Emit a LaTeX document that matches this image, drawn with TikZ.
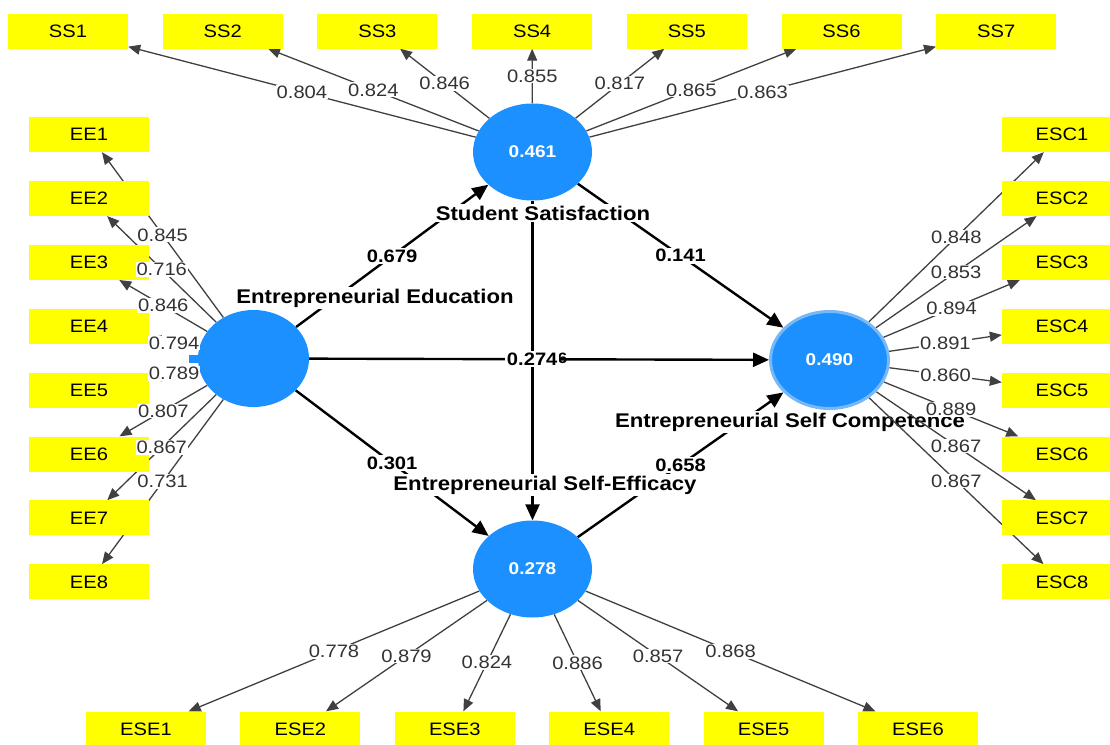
\documentclass[tikz,border=0pt]{standalone}
\usepackage{fontspec}
\setmainfont{Liberation Sans}[FakeStretch=1.12]
\usepackage{xcolor}
\usetikzlibrary{arrows.meta,positioning,calc,shapes.geometric}
\definecolor{plsblue}{RGB}{28,144,255}
\definecolor{plsring}{RGB}{120,185,245}
\definecolor{plsyellow}{RGB}{255,255,0}
\pgfdeclarelayer{paths}
\pgfdeclarelayer{names}
\pgfdeclarelayer{loads}
\pgfsetlayers{paths,names,loads,main}

\begin{document}
\begin{tikzpicture}[x=1pt,y=-1pt,
  lat/.style={ellipse,fill=plsblue,inner sep=0pt,minimum width=119pt,minimum height=97pt,text=white,font=\bfseries\fontsize{17}{17}\selectfont},
  ind/.style={rectangle,fill=plsyellow,minimum width=120pt,minimum height=35pt,inner sep=0pt,text=black,font=\fontsize{18}{18}\selectfont},
  load/.style={draw=black!75,line width=1.3pt,-{Triangle[length=12pt,width=10pt]}},
  lval/.style={fill=white,inner sep=1pt,text=black!80,font=\fontsize{18}{18}\selectfont},
  struct/.style={draw=black,line width=2.4pt,-{Triangle[length=16pt,width=14pt]}},
  coef/.style={fill=white,inner sep=1.5pt,font=\bfseries\fontsize{18}{18}\selectfont},
  latname/.style={fill=white,inner sep=2pt,font=\bfseries\fontsize{19.8}{20}\selectfont}]
\useasboundingbox (0,0) rectangle (1110,744);

\node[lat] (SS) at (532.5,152) {0.461};
\node[lat,minimum width=111pt] (EE) at (253.5,358.5) {};
\node[fill=plsblue,minimum width=12pt,minimum height=8pt,inner sep=0pt,anchor=east] (EEtab) at ([xshift=3pt]EE.west) {};
\node[lat,draw=plsring,line width=3pt,minimum width=118pt,minimum height=97pt] (ESC) at (829.5,360) {0.490};
\node[lat] (ESE) at (532.5,569) {0.278};

\foreach \i in {1,...,7}
  \node[ind] (SS\i) at ({68+154.7*(\i-1)},31) {SS\i};
\foreach \i in {1,...,8}{
  \node[ind] (EE\i) at (89,{134.5+63.9*(\i-1)}) {EE\i};
  \node[ind] (ESC\i) at (1062,{134.5+63.9*(\i-1)}) {ESC\i};
}
\foreach \i in {1,...,6}
  \node[ind] (ESE\i) at ({146+154.4*(\i-1)},729) {ESE\i};

\begin{pgfonlayer}{paths}
\draw[struct] (EE) -- node[coef]{0.679} (SS);
\draw[struct] (SS) -- node[coef]{0.141} (ESC);
\draw[struct] (SS) -- node[coef,xshift=30pt,yshift=2pt,font=\bfseries\fontsize{15}{15}\selectfont]{6} (ESE);
\draw[struct] (EE) -- node[coef,pos=0.485]{0.274} (ESC);
\draw[struct] (EE) -- node[coef]{0.301} (ESE);
\draw[struct] (ESE) -- node[coef]{0.658} (ESC);
\end{pgfonlayer}

\begin{pgfonlayer}{names}
\node[latname] (nSS) at (543,213) {Student Satisfaction};
\node[latname] (nEE) at (375,298) {Entrepreneurial Education};
\node[latname] (nESE) at (545,485) {Entrepreneurial Self-Efficacy};
\node[latname] (nESC) at (790,422) {Entrepreneurial Self Competence};
\end{pgfonlayer}

\foreach \i/\v in {1/0.804,2/0.824,3/0.846,4/0.855,5/0.817,6/0.865,7/0.863}{
  \begin{pgfonlayer}{loads}\draw[load] (SS) -- coordinate[midway] (mSS\i) (SS\i);\end{pgfonlayer}
  \node[lval] at (mSS\i) {\v};
}
\foreach \i/\v in {1/0.845,2/0.716,3/0.846,4/0.794,5/0.789,6/0.807,7/0.867,8/0.731}{
  \begin{pgfonlayer}{loads}\draw[load] (EE) -- coordinate[midway] (mEE\i) (EE\i);\end{pgfonlayer}
  \node[lval] at (mEE\i) {\v};
}
\foreach \i/\v in {1/0.848,2/0.853,3/0.894,4/0.891,5/0.860,6/0.889,7/0.867,8/0.867}{
  \begin{pgfonlayer}{loads}\draw[load] (ESC) -- coordinate[midway] (mESC\i) (ESC\i);\end{pgfonlayer}
  \node[lval] at (mESC\i) {\v};
}
\foreach \i/\v in {1/0.778,2/0.879,3/0.824,4/0.886,5/0.857,6/0.868}{
  \begin{pgfonlayer}{loads}\draw[load] (ESE) -- coordinate[midway] (mESE\i) (ESE\i);\end{pgfonlayer}
  \node[lval] at (mESE\i) {\v};
}
\end{tikzpicture}
\end{document}
